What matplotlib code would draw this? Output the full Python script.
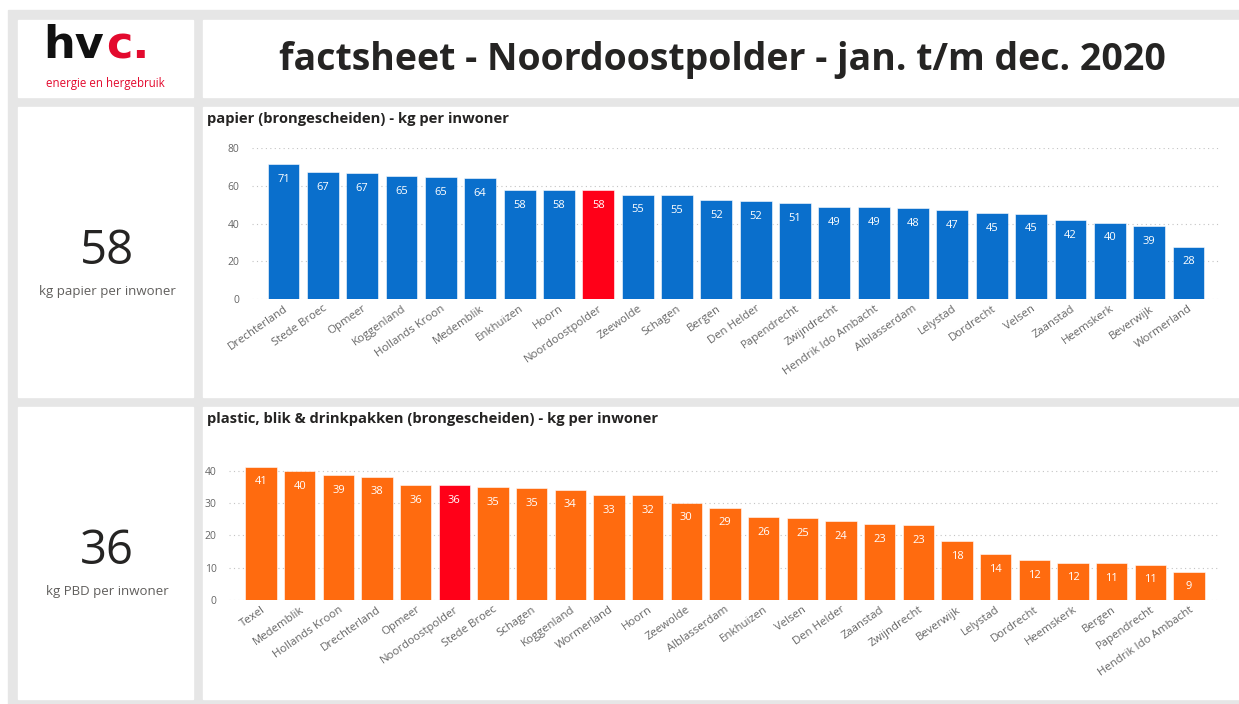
import numpy as np
import matplotlib
matplotlib.use('Agg')
import matplotlib.pyplot as plt
from matplotlib.patches import Rectangle

plt.rcParams['font.family'] = ['Open Sans', 'DejaVu Sans']

# papier (brongescheiden) - kg per inwoner
papier_gemeenten = ['Drechterland', 'Stede Broec', 'Opmeer', 'Koggenland', 'Hollands Kroon',
                    'Medemblik', 'Enkhuizen', 'Hoorn', 'Noordoostpolder', 'Zeewolde', 'Schagen',
                    'Bergen', 'Den Helder', 'Papendrecht', 'Zwijndrecht', 'Hendrik Ido Ambacht',
                    'Alblasserdam', 'Lelystad', 'Dordrecht', 'Velsen', 'Zaanstad', 'Heemskerk',
                    'Beverwijk', 'Wormerland']
papier_kg = [71.4, 67.4, 66.6, 65.2, 64.6, 64.1, 57.7, 57.6, 57.6, 55.3, 55.1, 52.4,
             51.9, 50.7, 48.7, 48.6, 48.0, 47.2, 45.4, 45.2, 41.6, 40.4, 38.7, 27.7]

# plastic, blik & drinkpakken (brongescheiden) - kg per inwoner
pbd_gemeenten = ['Texel', 'Medemblik', 'Hollands Kroon', 'Drechterland', 'Opmeer',
                 'Noordoostpolder', 'Stede Broec', 'Schagen', 'Koggenland', 'Wormerland',
                 'Hoorn', 'Zeewolde', 'Alblasserdam', 'Enkhuizen', 'Velsen', 'Den Helder',
                 'Zaanstad', 'Zwijndrecht', 'Beverwijk', 'Lelystad', 'Dordrecht', 'Heemskerk',
                 'Bergen', 'Papendrecht', 'Hendrik Ido Ambacht']
pbd_kg = [41.3, 39.9, 38.7, 38.2, 35.6, 35.6, 34.9, 34.6, 34.2, 32.6, 32.4, 30.2, 28.6,
          25.7, 25.4, 24.4, 23.4, 23.3, 18.2, 14.1, 12.3, 11.6, 11.4, 11.0, 8.8]

gemeente = 'Noordoostpolder'
titel = 'factsheet - Noordoostpolder - jan. t/m dec. 2020'

W, H = 1239, 704
fig = plt.figure(figsize=(W / 100, H / 100), dpi=100)
fig.patch.set_facecolor('white')


def rect(x0, y0, x1, y1):
    # pixel box (top-left origin) -> figure fraction [l, b, w, h]
    return [x0 / W, 1 - y1 / H, (x1 - x0) / W, (y1 - y0) / H]


def fx(x):
    return x / W


def fy(y):
    return 1 - y / H


# grey canvas + white tiles
l, b, w, h = rect(8, 10, W, H)
fig.patches.append(Rectangle((l, b), w, h, transform=fig.transFigure, color='#e6e6e6', zorder=0))
for box in [(18, 20, 193, 97), (203, 20, W, 97), (18, 107, 193, 397), (203, 107, W, 397),
            (18, 407, 193, 699), (203, 407, W, 699)]:
    l, b, w, h = rect(*box)
    fig.patches.append(Rectangle((l, b), w, h, transform=fig.transFigure, color='white', zorder=1))

# logo
rood = '#e30a2e'
fig.text(fx(43), fy(46), 'hv', fontsize=32, fontweight='heavy', color='#111111',
         va='center', ha='left', family='DejaVu Sans')
fig.text(fx(106), fy(46), 'c.', fontsize=32, fontweight='heavy', color=rood,
         va='center', ha='left', family='DejaVu Sans')
fig.text(fx(105), fy(83), 'energie en hergebruik', fontsize=8.3, color=rood, ha='center', va='center')

# title
fig.text(fx(722), fy(60), titel, fontsize=27, fontweight='bold', color='#252423',
         ha='center', va='center')

# KPI cards
papier_waarde = papier_kg[papier_gemeenten.index(gemeente)]
pbd_waarde = pbd_kg[pbd_gemeenten.index(gemeente)]
fig.text(fx(107), fy(251), f'{papier_waarde:.0f}', fontsize=34, color='#252423', ha='center', va='center')
fig.text(fx(107), fy(291), 'kg papier per inwoner', fontsize=9.5, color='#605e5c', ha='center', va='center')
fig.text(fx(107), fy(551), f'{pbd_waarde:.0f}', fontsize=34, color='#252423', ha='center', va='center')
fig.text(fx(107), fy(592), 'kg PBD per inwoner', fontsize=9.5, color='#605e5c', ha='center', va='center')


def bar_chart(box, namen, waarden, kleur, ylim, ticks, xlim, titel_tekst, titel_xy):
    ax = fig.add_axes(rect(*box), zorder=3)
    ax.patch.set_alpha(0)
    x = np.arange(len(namen))
    kleuren = ['#ff0018' if n == gemeente else kleur for n in namen]
    bars = ax.bar(x, waarden, width=0.81, color=kleuren, edgecolor='white', linewidth=0.4, zorder=2)
    for r, v in zip(bars, waarden):
        ax.annotate(f'{v:.0f}', (r.get_x() + r.get_width() / 2, v), xytext=(0, -7),
                    textcoords='offset points', ha='center', va='top', color='white', fontsize=8)
    ax.set_ylim(*ylim)
    ax.set_xlim(*xlim)
    ax.set_yticks(ticks)
    ax.yaxis.grid(True, linestyle=(0, (1, 3)), color='#c4c4c4', linewidth=0.8, zorder=0)
    ax.set_axisbelow(True)
    ax.set_xticks(x)
    ax.set_xticklabels(namen, rotation=35, ha='right', rotation_mode='anchor',
                       fontsize=8.2, color='#666666')
    ax.tick_params(axis='both', length=0, labelcolor='#666666')
    ax.tick_params(axis='y', labelsize=7.5, pad=9)
    ax.tick_params(axis='x', pad=3)
    for s in ax.spines.values():
        s.set_visible(False)
    fig.text(fx(titel_xy[0]), fy(titel_xy[1]), titel_tekst, fontsize=10.6, fontweight='bold',
             color='#252423', ha='left', va='center')
    return ax


bar_chart((252, 148, 1220, 299), papier_gemeenten, papier_kg, '#0a6fcc', (0, 80),
          [0, 20, 40, 60, 80], (-0.8, 23.8),
          'papier (brongescheiden) - kg per inwoner', (207, 119))
bar_chart((229, 458, 1218, 600), pbd_gemeenten, pbd_kg, '#ff6b0f', (0, 44),
          [0, 10, 20, 30, 40], (-0.83, 24.75),
          'plastic, blik & drinkpakken (brongescheiden) - kg per inwoner', (207, 419))

fig.savefig('out.png', dpi=100)
